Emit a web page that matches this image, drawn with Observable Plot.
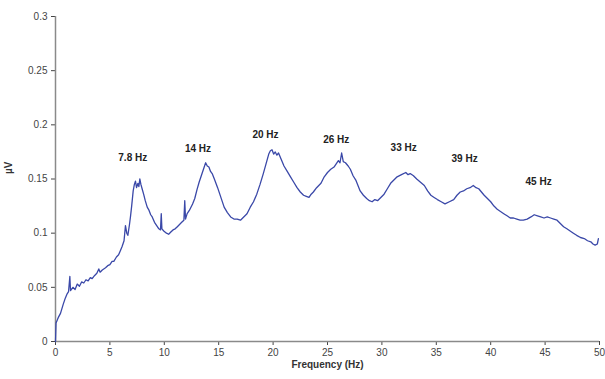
<!DOCTYPE html>
<html>
<head>
<meta charset="utf-8">
<script src="https://cdn.jsdelivr.net/npm/d3@7"></script>
<script src="https://cdn.jsdelivr.net/npm/@observablehq/plot@0.6"></script>
<style>
  html, body { margin: 0; padding: 0; background: #fff; }
  #chart svg { font-family: "Liberation Sans", Arial, sans-serif; }
</style>
</head>
<body>
<div id="chart"></div>
<script>
const freq = [0,0.05,0.25,0.46,0.7,0.9,1.07,1.2,1.32,1.38,1.6,1.8,2.0,2.2,2.4,2.6,2.8,3.0,3.2,3.37,3.6,3.8,3.98,4.1,4.3,4.6,4.8,5.0,5.2,5.36,5.6,5.8,5.97,6.13,6.3,6.43,6.55,6.65,6.8,6.9,7.0,7.14,7.25,7.35,7.45,7.57,7.66,7.75,7.85,7.96,8.1,8.25,8.43,8.6,8.75,8.89,9.1,9.3,9.5,9.65,9.72,9.78,9.95,10.2,10.4,10.6,10.8,11.0,11.2,11.4,11.6,11.8,11.88,11.95,12.1,12.3,12.6,12.8,13.0,13.2,13.4,13.6,13.8,13.95,14.1,14.25,14.4,14.6,14.9,15.1,15.3,15.5,15.8,16.1,16.4,16.7,17.0,17.3,17.6,17.9,18.2,18.5,18.8,19.1,19.35,19.6,19.75,19.9,20.05,20.2,20.35,20.5,20.75,21.0,21.3,21.6,21.9,22.2,22.5,22.8,23.05,23.3,23.5,23.7,24.0,24.4,24.7,25.0,25.3,25.6,25.8,26.0,26.15,26.3,26.45,26.65,26.9,27.1,27.35,27.6,27.8,28.0,28.3,28.6,28.85,29.1,29.35,29.6,29.9,30.2,30.5,30.8,31.1,31.4,31.8,32.2,32.4,32.6,32.9,33.2,33.55,33.9,34.2,34.5,34.8,35.1,35.45,35.8,36.2,36.6,36.9,37.2,37.5,37.8,38.1,38.4,38.65,38.9,39.15,39.4,39.7,40.0,40.3,40.6,40.9,41.2,41.5,41.8,42.1,42.4,42.7,43.0,43.35,43.7,44.0,44.3,44.6,44.9,45.2,45.5,45.8,46.1,46.4,46.7,47.0,47.3,47.6,47.9,48.25,48.6,48.9,49.2,49.4,49.6,49.8,49.9];
const uv = [0,0.017,0.022,0.026,0.034,0.040,0.044,0.046,0.060,0.047,0.050,0.048,0.053,0.051,0.055,0.054,0.057,0.056,0.059,0.058,0.061,0.063,0.067,0.064,0.066,0.068,0.070,0.071,0.074,0.074,0.078,0.080,0.084,0.088,0.093,0.107,0.100,0.098,0.108,0.116,0.125,0.139,0.145,0.148,0.142,0.146,0.143,0.150,0.145,0.141,0.136,0.130,0.124,0.121,0.117,0.115,0.110,0.107,0.104,0.103,0.118,0.104,0.102,0.100,0.099,0.101,0.103,0.104,0.106,0.108,0.110,0.112,0.130,0.113,0.118,0.121,0.127,0.132,0.140,0.147,0.153,0.159,0.165,0.162,0.161,0.157,0.155,0.150,0.142,0.136,0.130,0.124,0.119,0.115,0.113,0.113,0.112,0.115,0.118,0.124,0.129,0.136,0.145,0.155,0.164,0.173,0.176,0.177,0.173,0.175,0.172,0.174,0.168,0.162,0.157,0.152,0.147,0.142,0.138,0.135,0.134,0.133,0.136,0.138,0.142,0.146,0.152,0.156,0.159,0.161,0.164,0.167,0.165,0.174,0.166,0.165,0.162,0.159,0.153,0.149,0.144,0.139,0.135,0.132,0.130,0.129,0.131,0.130,0.133,0.136,0.141,0.146,0.149,0.152,0.154,0.156,0.154,0.155,0.153,0.150,0.147,0.144,0.139,0.135,0.133,0.131,0.129,0.127,0.129,0.131,0.135,0.138,0.139,0.141,0.142,0.144,0.142,0.141,0.138,0.135,0.132,0.129,0.125,0.122,0.120,0.118,0.116,0.114,0.114,0.113,0.112,0.112,0.113,0.115,0.117,0.116,0.115,0.114,0.115,0.114,0.113,0.112,0.109,0.106,0.104,0.102,0.100,0.098,0.096,0.095,0.093,0.092,0.090,0.089,0.090,0.095];

const peakLabels = ["7.8 Hz","14 Hz","20 Hz","26 Hz","33 Hz","39 Hz","45 Hz"];
const labelFreq = [7.1, 13.1, 19.3, 25.8, 32.0, 37.6, 44.4];
const labelUv = [0.170, 0.178, 0.191, 0.186, 0.179, 0.169, 0.147];

const xTicks = [0,5,10,15,20,25,30,35,40,45,50];
const yTicks = [0,0.05,0.1,0.15,0.2,0.25,0.3];
const xTitle = "Frequency (Hz)";
const yTitle = "µV";

const series = freq.map((f, i) => ({f, v: uv[i]}));
const labels = peakLabels.map((t, i) => ({t, f: labelFreq[i], v: labelUv[i]}));

const chart = Plot.plot({
  width: 605,
  height: 379,
  marginLeft: 55,
  marginRight: 6,
  marginTop: 16,
  marginBottom: 38,
  style: {fontFamily: '"Liberation Sans", Arial, sans-serif', fontSize: "10px", color: "#444", background: "#fff"},
  x: {domain: [0, 50], ticks: xTicks, tickFormat: d => String(d), label: null, tickSize: 4, tickPadding: 3},
  y: {domain: [0, 0.3], ticks: yTicks, tickFormat: d => String(d), label: null, tickSize: 4, tickPadding: 4},
  marks: [
    Plot.ruleY([0], {stroke: "#8a8a8a", strokeWidth: 1.5}),
    Plot.ruleX([0], {stroke: "#8a8a8a", strokeWidth: 1.5}),
    Plot.line(series, {x: "f", y: "v", stroke: "#3a48a8", strokeWidth: 1.3}),
    Plot.text(labels, {x: "f", y: "v", text: "t", fontWeight: "bold", fontSize: 10, fill: "#222"}),
    Plot.text([xTitle], {frameAnchor: "bottom", dy: 26, text: d => d, fontWeight: "bold", fontSize: 10, fill: "#333"}),
    Plot.text([yTitle], {frameAnchor: "left", dx: -47, dy: -5, rotate: -90, text: d => d, fontWeight: "bold", fontSize: 10, fill: "#333"})
  ]
});
document.getElementById("chart").append(chart);
</script>
</body>
</html>
